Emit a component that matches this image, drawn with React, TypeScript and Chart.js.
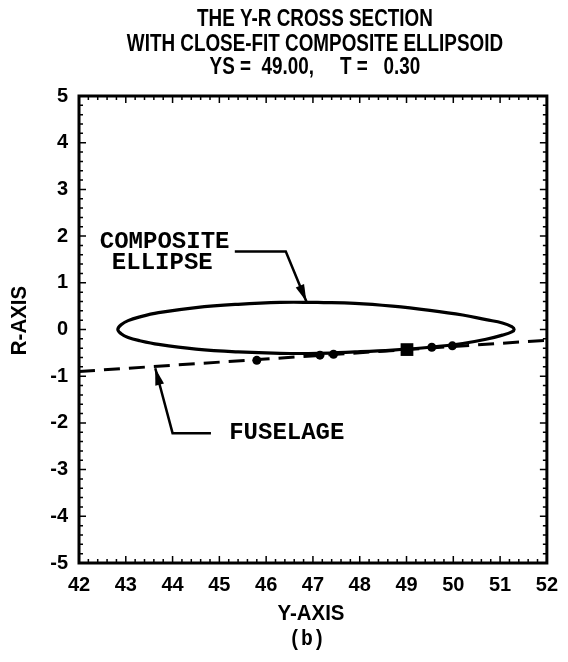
import React, { useEffect, useRef } from 'react';
import { Chart, registerables } from 'chart.js';

Chart.register(...registerables);

// ---- axis ranges / labels ----
const X_MIN = 42;
const X_MAX = 52;
const R_MIN = -5;
const R_MAX = 5;
const TICK_STEP = 0.2;

const titleLines = [
  'THE Y-R CROSS SECTION',
  'WITH CLOSE-FIT COMPOSITE ELLIPSOID',
  'YS =  49.00,     T =   0.30',
];
const xAxisTitle = 'Y-AXIS';
const yAxisTitle = 'R-AXIS';
const caption = '(b)';

// ---- composite ellipse ----
const ellipseY = [42.83, 42.90, 43.05, 43.30, 43.70, 44.50, 45.40, 46.30, 47.10, 47.90, 48.70, 49.50, 50.20, 50.70, 51.05, 51.25, 51.30];
const ellipseUpperR = [0.00, 0.10, 0.19, 0.27, 0.36, 0.47, 0.54, 0.58, 0.58, 0.56, 0.50, 0.41, 0.31, 0.21, 0.14, 0.06, 0.00];
const ellipseLowerR = [0.00, -0.09, -0.17, -0.24, -0.32, -0.42, -0.48, -0.51, -0.51, -0.48, -0.44, -0.38, -0.30, -0.21, -0.12, -0.05, 0.00];

// ---- fuselage line ----
const fuselageY = [42, 52];
const fuselageR = [-0.90, -0.23];

// ---- section points ----
const pointsY = [45.80, 47.15, 47.44, 49.54, 49.98];
const pointsR = [-0.66, -0.55, -0.53, -0.38, -0.35];
const stationY = [49.01];
const stationR = [-0.43];

// ---- annotations (data units) ----
const compositeText = ['COMPOSITE', 'ELLIPSE'];
const compositeTextY = [43.83, 43.78];
const compositeTextR = [1.87, 1.42];
const compositeArrowY = [45.33, 46.42, 46.86];
const compositeArrowR = [1.67, 1.67, 0.60];
const fuselageText = 'FUSELAGE';
const fuselageTextY = 45.21;
const fuselageTextR = -2.22;
const fuselageArrowY = [44.82, 44.00, 43.63];
const fuselageArrowR = [-2.22, -2.22, -0.83];

const isInt = (v: number) => Math.abs(v - Math.round(v)) < 1e-6;

function buildEllipse() {
  const pts: { x: number; y: number }[] = [];
  const n = ellipseY.length;
  const mid = 8;
  for (let i = mid; i < n; i++) pts.push({ x: ellipseY[i], y: ellipseUpperR[i] });
  for (let i = n - 2; i >= 1; i--) pts.push({ x: ellipseY[i], y: ellipseLowerR[i] });
  for (let i = 0; i <= mid; i++) pts.push({ x: ellipseY[i], y: ellipseUpperR[i] });
  return pts;
}

function drawText(
  ctx: CanvasRenderingContext2D,
  text: string,
  x: number,
  y: number,
  font: string,
  sx: number,
  align: CanvasTextAlign = 'center',
  rotate = 0
) {
  ctx.save();
  ctx.translate(x, y);
  if (rotate) ctx.rotate(rotate);
  ctx.scale(sx, 1);
  ctx.font = font;
  ctx.textAlign = align;
  ctx.textBaseline = 'middle';
  ctx.fillStyle = '#000';
  ctx.fillText(text, 0, 0);
  ctx.restore();
}

function drawArrow(ctx: CanvasRenderingContext2D, pts: [number, number][]) {
  ctx.save();
  ctx.strokeStyle = '#000';
  ctx.fillStyle = '#000';
  ctx.lineWidth = 2.5;
  ctx.lineJoin = 'miter';
  ctx.beginPath();
  ctx.moveTo(pts[0][0], pts[0][1]);
  for (let i = 1; i < pts.length; i++) ctx.lineTo(pts[i][0], pts[i][1]);
  ctx.stroke();
  const [x1, y1] = pts[pts.length - 2];
  const [x2, y2] = pts[pts.length - 1];
  const ang = Math.atan2(y2 - y1, x2 - x1);
  const L = 17;
  const W = 4.5;
  const bx = x2 - L * Math.cos(ang);
  const by = y2 - L * Math.sin(ang);
  ctx.beginPath();
  ctx.moveTo(x2, y2);
  ctx.lineTo(bx + W * Math.sin(ang), by - W * Math.cos(ang));
  ctx.lineTo(bx - W * Math.sin(ang), by + W * Math.cos(ang));
  ctx.closePath();
  ctx.fill();
  ctx.restore();
}

const overlay = {
  id: 'overlay',
  afterDraw(chart: any) {
    const { ctx, chartArea: a, scales } = chart;
    const xs = scales.x;
    const ys = scales.y;
    ctx.save();
    ctx.strokeStyle = '#000';
    ctx.lineWidth = 3;
    ctx.strokeRect(a.left, a.top, a.right - a.left, a.bottom - a.top);
    ctx.lineWidth = 1.5;
    ctx.beginPath();
    xs.ticks.forEach((t: any) => {
      const px = xs.getPixelForValue(t.value);
      const len = isInt(t.value) ? 7 : 4;
      ctx.moveTo(px, a.bottom);
      ctx.lineTo(px, a.bottom - len);
      ctx.moveTo(px, a.top);
      ctx.lineTo(px, a.top + len);
    });
    ys.ticks.forEach((t: any) => {
      const py = ys.getPixelForValue(t.value);
      const len = isInt(t.value) ? 7 : 4;
      ctx.moveTo(a.left, py);
      ctx.lineTo(a.left + len, py);
      ctx.moveTo(a.right, py);
      ctx.lineTo(a.right - len, py);
    });
    ctx.stroke();
    ctx.restore();

    const cx = (a.left + a.right) / 2 + 2;
    const titleFont = 'bold 23px "Liberation Sans"';
    const titleYs = [20, 45, 68];
    titleLines.forEach((line, i) => drawText(ctx, line, cx, titleYs[i], titleFont, 0.82));

    const axFont = 'bold 22px "Liberation Sans"';
    drawText(ctx, xAxisTitle, cx - 4, a.bottom + 51, axFont, 0.93);
    drawText(ctx, yAxisTitle, 20, (a.top + a.bottom) / 2 - 9, axFont, 0.93, 'center', -Math.PI / 2);
    drawText(ctx, caption, cx - 8, a.bottom + 76, 'bold 22px "Liberation Mono"', 0.9);

    const monoFont = 'bold 24px "Liberation Mono"';
    compositeText.forEach((t, i) =>
      drawText(ctx, t, xs.getPixelForValue(compositeTextY[i]), ys.getPixelForValue(compositeTextR[i]), monoFont, 1)
    );
    drawArrow(
      ctx,
      compositeArrowY.map((v, i) => [xs.getPixelForValue(v), ys.getPixelForValue(compositeArrowR[i])] as [number, number])
    );
    drawText(ctx, fuselageText, xs.getPixelForValue(fuselageTextY), ys.getPixelForValue(fuselageTextR), monoFont, 1, 'left');
    drawArrow(
      ctx,
      fuselageArrowY.map((v, i) => [xs.getPixelForValue(v), ys.getPixelForValue(fuselageArrowR[i])] as [number, number])
    );
  },
};

export default function App() {
  const ref = useRef<HTMLCanvasElement>(null);
  useEffect(() => {
    if (!ref.current) return;
    const tickFont = { family: '"Liberation Sans"', size: 20, weight: 'bold' as const };
    const chart = new Chart(ref.current, {
      type: 'scatter',
      data: {
        datasets: [
          {
            label: 'station',
            data: stationY.map((v, i) => ({ x: v, y: stationR[i] })),
            pointStyle: 'rect',
            pointRadius: 9,
            backgroundColor: '#000',
            borderColor: '#000',
            borderWidth: 0,
            showLine: false,
          },
          {
            label: 'points',
            data: pointsY.map((v, i) => ({ x: v, y: pointsR[i] })),
            pointStyle: 'circle',
            pointRadius: 4.5,
            backgroundColor: '#000',
            borderColor: '#000',
            borderWidth: 0,
            showLine: false,
          },
          {
            label: 'ellipse',
            data: buildEllipse(),
            showLine: true,
            tension: 0.4,
            borderColor: '#000',
            borderWidth: 3.2,
            pointRadius: 0,
            fill: false,
          },
          {
            label: 'fuselage',
            data: fuselageY.map((v, i) => ({ x: v, y: fuselageR[i] })),
            showLine: true,
            borderColor: '#000',
            borderWidth: 3,
            borderDash: [16, 9],
            pointRadius: 0,
            fill: false,
          },
        ],
      },
      options: {
        animation: false,
        responsive: false,
        devicePixelRatio: 1,
        events: [],
        layout: { padding: { top: 96, right: 18, left: 0, bottom: 0 } },
        plugins: { legend: { display: false }, tooltip: { enabled: false }, title: { display: false } },
        scales: {
          x: {
            type: 'linear',
            min: X_MIN,
            max: X_MAX,
            grid: { display: false, drawTicks: false },
            border: { display: false },
            ticks: {
              stepSize: TICK_STEP,
              autoSkip: false,
              maxRotation: 0,
              padding: 10,
              color: '#000',
              font: tickFont,
              callback: (v: any) => (isInt(Number(v)) ? String(Math.round(Number(v))) : ''),
            },
            afterFit: (s: any) => {
              s.height = 99;
            },
          },
          y: {
            type: 'linear',
            min: R_MIN,
            max: R_MAX,
            grid: { display: false, drawTicks: false },
            border: { display: false },
            ticks: {
              stepSize: TICK_STEP,
              autoSkip: false,
              padding: 11,
              color: '#000',
              font: tickFont,
              callback: (v: any) => (isInt(Number(v)) ? String(Math.round(Number(v))) : ''),
            },
            afterFit: (s: any) => {
              s.width = 79;
            },
          },
        },
      },
      plugins: [overlay],
    });
    return () => chart.destroy();
  }, []);
  return (
    <div style={{ position: 'absolute', left: 0, top: 0, width: 568, height: 662, background: '#fff' }}>
      <canvas ref={ref} width={568} height={662} style={{ display: 'block' }} />
    </div>
  );
}
